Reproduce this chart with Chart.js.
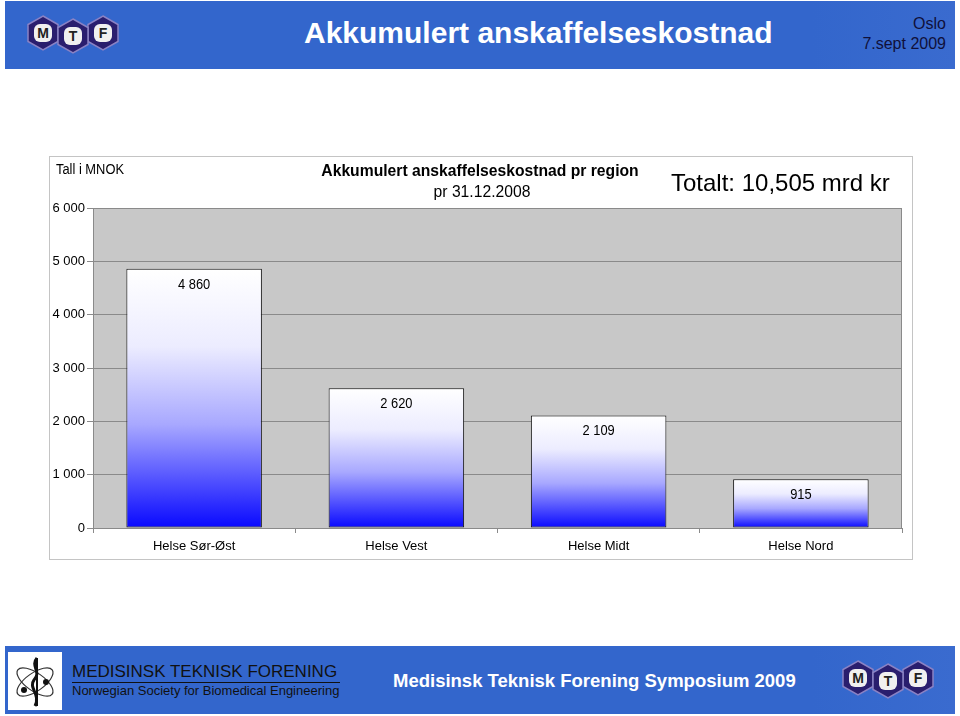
<!DOCTYPE html>
<html>
<head>
<meta charset="utf-8">
<script src="https://cdn.jsdelivr.net/npm/chart.js@4.4.0/dist/chart.umd.min.js"></script>
<style>
  body { margin: 0; width: 960px; height: 716px; background: #fff; position: relative; overflow: hidden; font-family: "Liberation Sans", Arial, sans-serif; }
  .bar { position: absolute; left: 5px; width: 950px; background: linear-gradient(90deg, #3366cc 0%, #3366cc 85%, #3a6bcf 100%); }
  #top { top: 1px; height: 68px; }
  #bottom { top: 646px; height: 68px; }
  .abs { position: absolute; white-space: nowrap; }
  #chartBox { position: absolute; left: 49px; top: 156px; width: 862px; height: 402px; border: 1px solid #c4c4c4; background: #fff; }
</style>
</head>
<body>
<div class="bar" id="top"></div>
<div class="bar" id="bottom"></div>

<!-- MTF logo, top -->
<svg class="abs" style="left:27px;top:13px" width="92" height="44" viewBox="0 0 92 44">
  <g id="hexes">
    <polygon points="16,3 31,11.5 31,28.5 16,37 1,28.5 1,11.5" fill="#2a1e6e" stroke="#8a82c4" stroke-width="1.5"/>
    <polygon points="76,3 91,11.5 91,28.5 76,37 61,28.5 61,11.5" fill="#2a1e6e" stroke="#8a82c4" stroke-width="1.5"/>
    <polygon points="46,6 61,14.5 61,31.5 46,40 31,31.5 31,14.5" fill="#2a1e6e" stroke="#8a82c4" stroke-width="1.5"/>
    <rect x="7" y="11" width="18" height="18" rx="6" fill="#f0f0f0"/>
    <rect x="37" y="14" width="18" height="18" rx="6" fill="#f0f0f0"/>
    <rect x="67" y="11" width="18" height="18" rx="6" fill="#f0f0f0"/>
    <text x="16" y="25" font-family="Liberation Sans" font-weight="bold" font-size="14" text-anchor="middle" fill="#222">M</text>
    <text x="46" y="28" font-family="Liberation Sans" font-weight="bold" font-size="14" text-anchor="middle" fill="#222">T</text>
    <text x="76" y="25" font-family="Liberation Sans" font-weight="bold" font-size="14" text-anchor="middle" fill="#222">F</text>
  </g>
</svg>
<div class="abs" style="left:304px;top:16px;font-size:30px;font-weight:bold;color:#fff">Akkumulert anskaffelseskostnad</div>
<div class="abs" style="right:14px;top:14px;font-size:16px;color:#10103a;text-align:right;line-height:20px">Oslo<br>7.sept 2009</div>

<div id="chartBox">
  <canvas id="costChart"></canvas>
</div>
<div class="abs" style="left:56px;top:161px;font-size:14px;color:#000;transform:scaleX(0.92);transform-origin:left">Tall i MNOK</div>
<div class="abs" style="left:280px;width:400px;top:162px;text-align:center;font-size:15.7px;font-weight:bold;color:#000">Akkumulert anskaffelseskostnad pr region</div>
<div class="abs" style="left:282px;width:400px;top:183px;text-align:center;font-size:15.7px;color:#000">pr 31.12.2008</div>
<div class="abs" style="left:671px;top:169px;font-size:24px;color:#000">Totalt: 10,505 mrd kr</div>

<!-- footer -->
<div class="abs" style="left:8px;top:652px;width:54px;height:58px;background:#fff"></div>
<svg class="abs" style="left:8px;top:652px" width="54" height="58" viewBox="0 0 54 58">
  <ellipse cx="27" cy="30" rx="21" ry="9" fill="none" stroke="#333" stroke-width="1.2" transform="rotate(35 27 30)"/>
  <ellipse cx="27" cy="30" rx="21" ry="9" fill="none" stroke="#333" stroke-width="1.2" transform="rotate(-35 27 30)"/>
  <path d="M29 6 C22 14 34 20 26 28 C20 36 33 42 27 54" fill="none" stroke="#111" stroke-width="3"/>
  <path d="M29 6 L29 54" stroke="#111" stroke-width="2"/>
  <circle cx="16" cy="38" r="3" fill="#111"/>
  <circle cx="38" cy="30" r="3" fill="#111"/>
</svg>
<div class="abs" style="left:72px;top:661px;font-size:17px;color:#111;border-bottom:1px solid #111;line-height:21px;width:268px">MEDISINSK TEKNISK FORENING</div>
<div class="abs" style="left:72px;top:683px;font-size:13px;color:#111">Norwegian Society for Biomedical Engineering</div>
<div class="abs" style="left:393px;top:670px;font-size:18.5px;font-weight:bold;color:#fff">Medisinsk Teknisk Forening Symposium 2009</div>
<svg class="abs" style="left:842px;top:658px" width="92" height="44" viewBox="0 0 92 44">
  <use href="#hexes"/>
</svg>

<script>
const regions = ['Helse Sør-Øst', 'Helse Vest', 'Helse Midt', 'Helse Nord'];
const kostnad = [4860, 2620, 2109, 915];
const yTicks = [0, 1000, 2000, 3000, 4000, 5000, 6000];

function fmt(v) {
    return String(v).replace(/\B(?=(\d{3})+(?!\d))/g, ' ');
}

// grey plot background
const plotBg = {
    id: 'plotBg',
    beforeDraw(chart) {
        const a = chart.chartArea, ctx = chart.ctx;
        ctx.save();
        ctx.fillStyle = '#c8c8c8';
        ctx.fillRect(a.left, a.top, a.right - a.left, a.bottom - a.top);
        ctx.strokeStyle = '#8a8a8a';
        ctx.lineWidth = 1;
        ctx.strokeRect(a.left + 0.5, a.top + 0.5, a.right - a.left - 1, a.bottom - a.top);
        ctx.restore();
    }
};

// value labels inside the top of each bar
const valueLabels = {
    id: 'valueLabels',
    afterDatasetsDraw(chart) {
        const ctx = chart.ctx;
        const meta = chart.getDatasetMeta(0);
        ctx.save();
        ctx.font = '14px "Liberation Sans", sans-serif';
        ctx.fillStyle = '#000';
        ctx.textAlign = 'center';
        ctx.textBaseline = 'middle';
        meta.data.forEach((bar, i) => {
            ctx.save();
            ctx.translate(bar.x, bar.y + 16);
            ctx.scale(0.92, 1);
            ctx.fillText(fmt(kostnad[i]), 0, 0);
            ctx.restore();
        });
        ctx.restore();
    }
};

const chartData = {
    labels: regions,
    datasets: [{
        data: kostnad,
        borderColor: '#111',
        borderWidth: 1,
        borderSkipped: false,
        barPercentage: 0.67,
        categoryPercentage: 1,
        backgroundColor: function(context) {
            const chart = context.chart;
            if (!chart.chartArea) return '#6060ff';
            const ys = chart.scales.y;
            const top = ys.getPixelForValue(kostnad[context.dataIndex]);
            const base = ys.getPixelForValue(0);
            const g = chart.ctx.createLinearGradient(0, top, 0, base);
            g.addColorStop(0, '#ffffff');
            g.addColorStop(0.3, '#ececff');
            g.addColorStop(0.6, '#a8a8ff');
            g.addColorStop(1, '#0808ff');
            return g;
        }
    }]
};

const config = {
    type: 'bar',
    data: chartData,
    plugins: [plotBg, valueLabels],
    options: {
        responsive: true,
        maintainAspectRatio: false,
        animation: false,
        layout: { padding: { top: 51, right: 10, bottom: 0, left: 0 } },
        plugins: {
            legend: { display: false },
            tooltip: { enabled: false }
        },
        scales: {
            x: {
                offset: true,
                grid: { offset: true, drawOnChartArea: false, color: '#8a8a8a', tickLength: 5 },
                border: { color: '#8a8a8a' },
                ticks: {
                    color: '#000',
                    padding: 6,
                    font: { family: 'Liberation Sans', size: 13 }
                },
                afterFit: function(scale) { scale.height = 31; }
            },
            y: {
                min: 0,
                max: 6000,
                afterBuildTicks: function(scale) {
                    scale.ticks = yTicks.map(v => ({ value: v }));
                },
                grid: { color: '#8a8a8a', tickLength: 6 },
                border: { color: '#8a8a8a' },
                ticks: {
                    color: '#000',
                    padding: 2,
                    font: { family: 'Liberation Sans', size: 13 },
                    callback: v => fmt(v)
                },
                afterFit: function(scale) { scale.width = 43; }
            }
        }
    }
};

new Chart(document.getElementById('costChart'), config);
</script>
</body>
</html>
